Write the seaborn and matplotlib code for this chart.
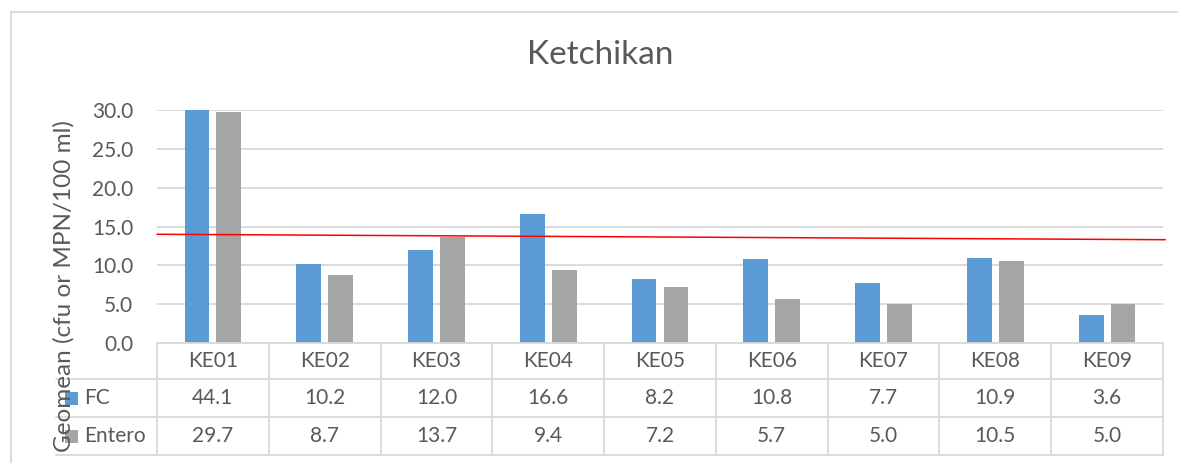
import matplotlib
matplotlib.use("Agg")
import matplotlib.pyplot as plt
import seaborn as sns
import pandas as pd
from matplotlib.lines import Line2D
from matplotlib.patches import Rectangle

# Geometric means per station
sites = ["KE01", "KE02", "KE03", "KE04", "KE05", "KE06", "KE07", "KE08", "KE09"]
fc = [44.1, 10.2, 12.0, 16.6, 8.2, 10.8, 7.7, 10.9, 3.6]
entero = [29.7, 8.7, 13.7, 9.4, 7.2, 5.7, 5.0, 10.5, 5.0]
series_names = ["FC", "Entero"]
yticks = [0, 5, 10, 15, 20, 25, 30]
# reference line (start and end value across the plot)
ref_line = [14.0, 13.3]

BLUE = "#5B9BD5"
GRAY = "#A5A5A5"
TEXT = "#595959"
GRID = "#D9D9D9"
FS = 15

sns.set_theme(style="white")
plt.rcParams["font.family"] = ["Lato", "DejaVu Sans"]

W, H = 1178, 463
fig = plt.figure(figsize=(W / 100, H / 100), dpi=100)


def fx(px):
    return px / W


def fy(py):
    return 1 - py / H


x0, x1 = 157, 1163
y_top, y_zero = 110, 343
ax = fig.add_axes([fx(x0), fy(y_zero), fx(x1 - x0), (y_zero - y_top) / H])

df = pd.DataFrame({
    "site": sites * 2,
    "value": fc + entero,
    "series": [series_names[0]] * len(sites) + [series_names[1]] * len(sites),
})
sns.barplot(data=df, x="site", y="value", hue="series", palette=[BLUE, GRAY],
            saturation=1, width=0.57, gap=0.22, linewidth=0, legend=False, ax=ax)

ax.set_xlim(-0.5, len(sites) - 0.5)
ax.set_ylim(0, 30)
ax.set_yticks(yticks)
ax.set_yticklabels([f"{v:.1f}" for v in yticks], color=TEXT, fontsize=FS)
ax.tick_params(axis="y", length=0, pad=17)
ax.set_xticks([])
ax.set_xlabel("")
ax.set_ylabel("")
ax.yaxis.grid(True, color=GRID, linewidth=1.3)
ax.set_axisbelow(True)
for s in ax.spines.values():
    s.set_visible(False)

# threshold line
ax.plot([-0.5, len(sites) - 0.48], ref_line, color="#FF0000", linewidth=1.1,
        clip_on=False, zorder=5)

# data table below the plot
col_w = (x1 - x0) / len(sites)
rows_y = [343, 379, 417, 455]
lab_x0 = 56
lines = []
for i in range(len(sites) + 1):
    xx = x0 + i * col_w
    lines.append(([fx(xx), fx(xx)], [fy(rows_y[0]), fy(rows_y[-1])]))
lines.append(([fx(x0), fx(x1)], [fy(rows_y[0]), fy(rows_y[0])]))
for yy in rows_y[1:]:
    lines.append(([fx(lab_x0), fx(x1)], [fy(yy), fy(yy)]))
for xs, ys in lines:
    fig.add_artist(Line2D(xs, ys, color=GRID, linewidth=1.3))

for i, site in enumerate(sites):
    cx = x0 + (i + 0.5) * col_w
    fig.text(fx(cx), fy((rows_y[0] + rows_y[1]) / 2), site, ha="center", va="center",
             color=TEXT, fontsize=FS)
    fig.text(fx(cx), fy((rows_y[1] + rows_y[2]) / 2), f"{fc[i]:.1f}", ha="center",
             va="center", color=TEXT, fontsize=FS)
    fig.text(fx(cx), fy((rows_y[2] + rows_y[3]) / 2), f"{entero[i]:.1f}", ha="center",
             va="center", color=TEXT, fontsize=FS)

for name, col, r in zip(series_names, [BLUE, GRAY], [1, 2]):
    cy = (rows_y[r] + rows_y[r + 1]) / 2
    fig.add_artist(Rectangle((fx(65), fy(cy + 6.5)), fx(13), 13 / H, facecolor=col,
                             edgecolor="none"))
    fig.text(fx(84), fy(cy), name, ha="left", va="center", color=TEXT, fontsize=FS)

# axis title and chart title
fig.text(fx(64), fy(286), "Geomean (cfu or MPN/100 ml)", rotation=90, ha="center",
         va="center", color=TEXT, fontsize=17.5)
fig.text(fx(600), fy(55), "Ketchikan", ha="center", va="center", color=TEXT,
         fontsize=24)

# chart border
fig.add_artist(Rectangle((fx(10.5), fy(H + 20)), fx(W + 20), (H + 20 - 12) / H,
                         facecolor="none", edgecolor=GRID, linewidth=1.3))

fig.savefig("out.png", dpi=100)
